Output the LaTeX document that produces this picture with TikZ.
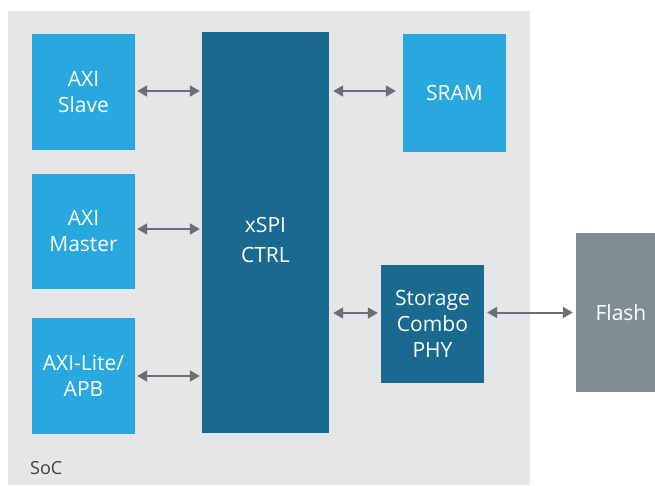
\documentclass[tikz,border=0pt]{standalone}
\usepackage{fontspec}
\setmainfont{Open Sans}
\usetikzlibrary{arrows.meta}
\definecolor{bgsoc}{HTML}{E5E6E8}
\definecolor{lblue}{HTML}{29A8E0}
\definecolor{dblue}{HTML}{1A6A8F}
\definecolor{flashgray}{HTML}{7F8D94}
\definecolor{arrowgray}{HTML}{6D6E71}
\definecolor{labelgray}{HTML}{414042}
\begin{document}
\begin{tikzpicture}[x=1pt,y=-1pt,
  blk/.style={draw=none, inner sep=0pt, text=white, align=center,
    font=\fontsize{21}{26}\selectfont},
  lb/.style={blk, fill=lblue},
  db/.style={blk, fill=dblue},
  link/.style={draw=arrowgray, line width=2pt,
    {Triangle[length=10pt,width=11pt]}-{Triangle[length=10pt,width=11pt]}}]
\useasboundingbox (0,0) rectangle (655,485);
\fill[white] (0,0) rectangle (655,485);
\node[fill=bgsoc, draw=none, inner sep=0pt, minimum width=522pt, minimum height=474pt,
  anchor=north west] (soc) at (8,11) {};
\node[anchor=base west, inner sep=0pt, text=labelgray, font=\fontsize{18}{22}\selectfont]
  (soclabel) at (30,474) {SoC};

\node[lb, minimum width=103pt, minimum height=116pt] (slave) at (83.5,92) {AXI\\Slave};
\node[lb, minimum width=103pt, minimum height=115pt] (master) at (83.5,231.5) {AXI\\Master};
\node[lb, minimum width=103pt, minimum height=116pt] (apb) at (83.5,376) {AXI-Lite/\\APB};
\node[db, minimum width=127pt, minimum height=401pt] (xspi) at (265.5,232.5) {};
\node[blk, font=\fontsize{21}{30}\selectfont] (xspitext) at (265.5,240) {xSPI\\CTRL};
\node[lb, minimum width=103pt, minimum height=118pt] (sram) at (454.5,93) {SRAM};
\node[db, minimum width=103pt, minimum height=118pt] (phy) at (432.5,324) {Storage\\Combo\\PHY};
\node[blk, fill=flashgray, minimum width=90pt, minimum height=159pt] (flash) at (621,312.5) {Flash};

\draw[link, shorten <=2pt, shorten >=2pt] ([yshift=1pt]slave.east) -- ([yshift=1pt]slave.east -| xspi.west);
\draw[link, shorten <=2pt, shorten >=2pt] ([yshift=2.5pt]master.east) -- ([yshift=2.5pt]master.east -| xspi.west);
\draw[link, shorten <=2pt, shorten >=2pt] (apb.east) -- (apb.east -| xspi.west);
\draw[link, shorten <=4pt, shorten >=7pt] ([yshift=2pt]sram.west -| xspi.east) -- ([yshift=2pt]sram.west);
\draw[link, shorten <=4pt, shorten >=3pt] ([yshift=11pt]phy.west -| xspi.east) -- ([yshift=11pt]phy.west);
\draw[link, shorten <=3pt, shorten >=3pt] (flash.west -| phy.east) -- (flash.west);
\end{tikzpicture}
\end{document}
